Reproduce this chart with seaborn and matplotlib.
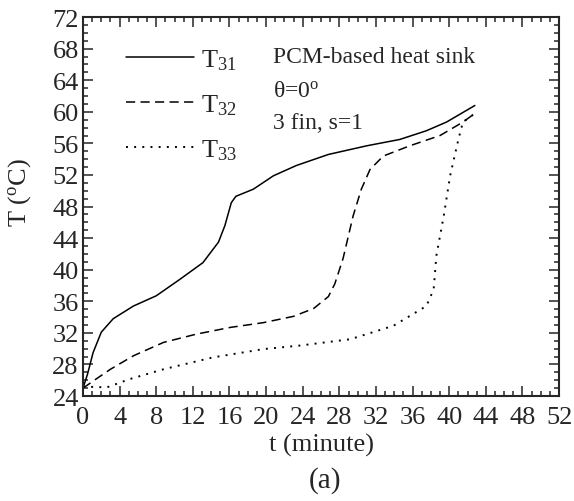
import numpy as np
import pandas as pd
import matplotlib
matplotlib.use("Agg")
import matplotlib.pyplot as plt
from matplotlib.ticker import MultipleLocator
import seaborn as sns

sns.set_style("ticks")
plt.rcParams['font.family'] = ['Liberation Serif', 'DejaVu Serif']
plt.rcParams['mathtext.fontset'] = 'custom'
plt.rcParams['mathtext.rm'] = 'Liberation Serif'
plt.rcParams['mathtext.it'] = 'Liberation Serif'

# T31 (solid)
t31 = [0, 0.5, 1.1, 2.0, 3.3, 5.5, 8.0, 10.6, 13.1, 14.8, 15.5, 16.2, 16.7, 18.6, 20.8, 23.3, 26.8, 31.0, 34.6, 37.5, 39.7, 42.8]
T31 = [25.0, 26.8, 29.5, 32.1, 33.8, 35.4, 36.7, 38.8, 40.9, 43.5, 45.6, 48.5, 49.3, 50.2, 51.9, 53.2, 54.6, 55.7, 56.5, 57.6, 58.7, 60.8]
# T32 (dashed)
t32 = [0, 1.1, 3.0, 5.5, 8.8, 12.4, 16.1, 19.7, 23.0, 25.2, 26.8, 27.5, 28.4, 29.5, 30.4, 31.35, 32.8, 35.7, 39.0, 41.5, 42.8]
T32 = [25.0, 25.9, 27.4, 29.1, 30.8, 31.85, 32.7, 33.3, 34.1, 35.1, 36.6, 38.2, 41.4, 46.8, 50.2, 52.7, 54.4, 55.7, 57.0, 58.7, 59.8]
# T33 (dotted)
t33 = [0, 2.6, 5.1, 8.8, 14.2, 19.7, 23.7, 29.2, 33.9, 37.5, 38.3, 38.6, 39.4, 40.1, 41.0, 41.5, 42.8]
T33 = [25.2, 25.1, 26.15, 27.4, 28.9, 29.95, 30.4, 31.2, 32.9, 35.4, 37.5, 41.8, 46.8, 51.9, 56.5, 58.7, 59.8]

labels = ['T$_{31}$', 'T$_{32}$', 'T$_{33}$']

df = pd.concat([
    pd.DataFrame({'t': t31, 'T': T31, 'series': labels[0]}),
    pd.DataFrame({'t': t32, 'T': T32, 'series': labels[1]}),
    pd.DataFrame({'t': t33, 'T': T33, 'series': labels[2]}),
])

fig = plt.figure(figsize=(5.74, 5.02), dpi=100)
ax = fig.add_axes([0.1446, 0.209, 0.8294, 0.755])

sns.lineplot(data=df, x='t', y='T', style='series', estimator=None, sort=False,
             color='black', linewidth=1.1,
             dashes={labels[0]: '', labels[1]: (6, 3.5), labels[2]: (1, 4)},
             ax=ax)

ax.set_xlim(0, 52)
ax.set_ylim(24, 72)
ax.xaxis.set_major_locator(MultipleLocator(4))
ax.xaxis.set_minor_locator(MultipleLocator(1))
ax.yaxis.set_major_locator(MultipleLocator(4))
ax.yaxis.set_minor_locator(MultipleLocator(1))
ax.tick_params(which='both', direction='in', top=True, right=True, labelsize=19, width=1.1)
ax.tick_params(which='major', length=7, pad=3)
ax.tick_params(axis='x', which='major', pad=7)
ax.tick_params(which='minor', length=3.5)
for sp in ax.spines.values():
    sp.set_linewidth(1.5)

ax.set_xlabel('t (minute)', fontsize=19, labelpad=4)
ax.set_ylabel('T ($^\\mathregular{o}$C)', fontsize=19)
ax.yaxis.set_label_coords(-0.105, 0.54)

leg = ax.legend(loc='upper left', bbox_to_anchor=(0.09, 0.92), frameon=False, fontsize=19,
                handlelength=2.6, labelspacing=0.77, handletextpad=0.25,
                borderpad=0, borderaxespad=0)

# dotted curve a little heavier, as in the original
for ln in (ax.lines[2], leg.get_lines()[2]):
    ln.set_linewidth(1.4)
    ln.set_dashes((1, 3.2))

ax.text(0.399, 0.897, 'PCM-based heat sink', transform=ax.transAxes, fontsize=17, va='center')
ax.text(0.399, 0.807, 'θ=0$^\\mathregular{o}$', transform=ax.transAxes, fontsize=17, va='center')
ax.text(0.399, 0.721, '3 fin, s=1', transform=ax.transAxes, fontsize=17, va='center')

fig.text(0.566, 0.042, '(a)', fontsize=21, ha='center', va='center')

fig.savefig('out.png', dpi=100)
